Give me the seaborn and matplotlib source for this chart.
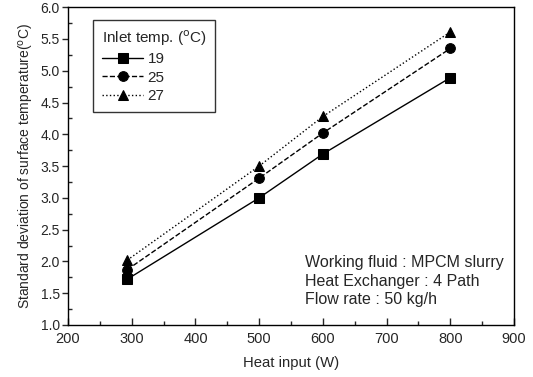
import matplotlib
matplotlib.use("Agg")
import matplotlib.pyplot as plt
import seaborn as sns
import pandas as pd
from matplotlib.ticker import MultipleLocator

heat_input = [293, 500, 600, 800]
std_19 = [1.72, 3.00, 3.69, 4.89]
std_25 = [1.87, 3.31, 4.02, 5.35]
std_27 = [2.02, 3.50, 4.28, 5.61]
series_labels = ["19", "25", "27"]

sns.set_theme(style="white")
plt.rcParams['font.family'] = ['Liberation Sans', 'DejaVu Sans']

rows = []
for lab, vals in zip(series_labels, [std_19, std_25, std_27]):
    for x, y in zip(heat_input, vals):
        rows.append({"Heat input": x, "std": y, "series": lab})
df = pd.DataFrame(rows)

fig = plt.figure(figsize=(5.33, 3.77), dpi=100)
ax = fig.add_axes([0.1276, 0.138, 0.8368, 0.843])

styles = {"19": ("-", "s"), "25": ("--", "o"), "27": (":", "^")}
for lab in series_labels:
    ls, mk = styles[lab]
    sub = df[df["series"] == lab]
    sns.lineplot(data=sub, x="Heat input", y="std", ax=ax, color="black",
                 linestyle=ls, marker=mk, markersize=7, markeredgecolor="black",
                 linewidth=1.0, label=lab)

ax.set_xlim(200, 900)
ax.set_ylim(1.0, 6.0)
ax.xaxis.set_major_locator(MultipleLocator(100))
ax.xaxis.set_minor_locator(MultipleLocator(50))
ax.yaxis.set_major_locator(MultipleLocator(0.5))
ax.yaxis.set_minor_locator(MultipleLocator(0.25))
ax.yaxis.set_major_formatter(matplotlib.ticker.FormatStrFormatter('%.1f'))
ax.tick_params(axis='x', which='major', direction='in', length=5, width=1, labelsize=10.5, bottom=True, top=False, pad=5)
ax.tick_params(axis='x', which='minor', direction='in', length=3, width=1, bottom=True, top=False)
ax.tick_params(axis='y', which='major', direction='out', length=4, width=1, labelsize=10, left=True, right=False, pad=2)
ax.tick_params(axis='y', which='minor', direction='in', length=3, width=1, left=True, right=False)
for s in ax.spines.values():
    s.set_color("black")
    s.set_linewidth(1.0)

ax.set_xlabel("Heat input (W)", fontsize=10.7, labelpad=7)
ax.set_ylabel("Standard deviation of surface temperature($^{\\mathrm{o}}$C)", fontsize=10, labelpad=3)

leg = ax.legend(title="Inlet temp. ($^{\\mathrm{o}}$C)", loc="upper left",
                bbox_to_anchor=(0.04, 0.985), fontsize=11, title_fontsize=11,
                frameon=True, fancybox=False, edgecolor="black", handlelength=2.7,
                handletextpad=0.3, labelspacing=0.3, borderpad=0.55)
leg.get_frame().set_linewidth(1.0)
leg._legend_box.align = "left"

ax.text(0.531, 0.138, "Working fluid : MPCM slurry\nHeat Exchanger : 4 Path\nFlow rate : 50 kg/h",
        transform=ax.transAxes, fontsize=11.5, va="center", ha="left", linespacing=1.3)

fig.savefig("out.png", dpi=100)
